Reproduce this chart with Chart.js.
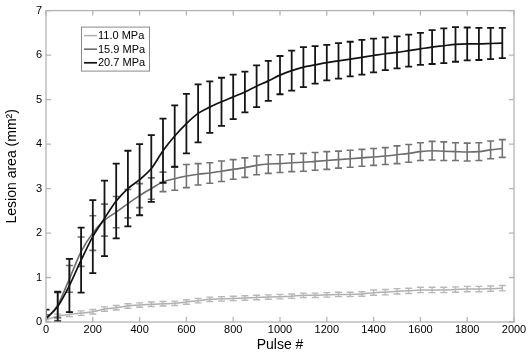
<!DOCTYPE html>
<html><head><meta charset="utf-8">
<script src="https://cdn.jsdelivr.net/npm/chart.js@4.4.0/dist/chart.umd.min.js"></script>
<style>html,body{margin:0;padding:0;background:#fff}#wrap{width:530px;height:354px;position:relative}</style>
</head><body><div id="wrap"><canvas id="c" width="530" height="354"></canvas></div>
<script>
const pulses = [0,50,100,150,200,250,300,350,400,450,500,550,600,650,700,750,800,850,900,950,
  1000,1050,1100,1150,1200,1250,1300,1350,1400,1450,1500,1550,1600,1650,1700,1750,1800,1850,1900,1950];

const mean11 = [0.05,0.13,0.17,0.20,0.23,0.29,0.32,0.36,0.38,0.40,0.41,0.42,0.45,0.48,0.51,0.52,0.53,0.54,0.55,0.56,
  0.57,0.58,0.60,0.60,0.61,0.62,0.62,0.63,0.66,0.67,0.69,0.70,0.72,0.72,0.72,0.73,0.74,0.74,0.75,0.76];
const err11 = [0.04,0.05,0.05,0.05,0.05,0.05,0.05,0.05,0.05,0.05,0.05,0.05,0.05,0.05,0.05,0.05,0.05,0.05,0.05,0.05,
  0.05,0.05,0.05,0.05,0.05,0.05,0.05,0.05,0.06,0.06,0.06,0.06,0.06,0.06,0.06,0.06,0.06,0.06,0.06,0.06];

const mean159 = [0.06,0.38,0.97,1.58,2.00,2.29,2.47,2.66,2.84,3.00,3.15,3.22,3.28,3.32,3.35,3.39,3.43,3.47,3.52,3.55,
  3.56,3.58,3.59,3.61,3.63,3.65,3.67,3.69,3.71,3.73,3.76,3.79,3.83,3.85,3.84,3.83,3.82,3.83,3.87,3.90];
const err159 = [0.10,0.28,0.30,0.33,0.39,0.36,0.35,0.32,0.27,0.24,0.22,0.26,0.26,0.24,0.23,0.23,0.22,0.22,0.21,0.21,
  0.20,0.20,0.20,0.20,0.20,0.19,0.19,0.19,0.19,0.19,0.20,0.20,0.20,0.21,0.21,0.20,0.20,0.20,0.20,0.20];

const mean207 = [0.08,0.35,0.82,1.39,1.92,2.33,2.72,3.00,3.20,3.45,3.85,4.18,4.46,4.69,4.83,4.95,5.06,5.17,5.30,5.42,
  5.55,5.65,5.73,5.78,5.83,5.87,5.91,5.95,5.99,6.03,6.06,6.10,6.14,6.18,6.21,6.24,6.25,6.25,6.26,6.27];
const err207 = [0.20,0.33,0.60,0.73,0.82,0.85,0.84,0.85,0.80,0.75,0.72,0.69,0.67,0.65,0.58,0.54,0.50,0.46,0.47,0.45,
  0.43,0.45,0.45,0.42,0.40,0.40,0.39,0.39,0.38,0.37,0.36,0.36,0.36,0.38,0.39,0.39,0.37,0.36,0.35,0.34];

const seriesLabels = ['11.0 MPa','15.9 MPa','20.7 MPa'];
const xTitle = 'Pulse #';
const yTitle = 'Lesion area (mm\u00B2)';

const FONT = '"Liberation Sans", Arial, sans-serif';

function toPts(means){ return pulses.map((p,i)=>({x:p,y:means[i]})); }

const errorBars = {
  id:'errorBars',
  afterDatasetDraw(chart, args){
    const ds = chart.data.datasets[args.index];
    if(!ds.errors) return;
    const xs = chart.scales.x, ys = chart.scales.y, ctx = chart.ctx, a = chart.chartArea;
    ctx.save();
    ctx.beginPath(); ctx.rect(a.left, a.top, a.right-a.left, a.bottom-a.top); ctx.clip();
    ctx.strokeStyle = ds.errColor; ctx.lineWidth = ds.errWidth;
    const cw = 3.5;
    ds.data.forEach((pt,i)=>{
      const e = ds.errors[i];
      const px = xs.getPixelForValue(pt.x);
      const y1 = ys.getPixelForValue(pt.y+e), y2 = ys.getPixelForValue(pt.y-e);
      ctx.beginPath();
      ctx.moveTo(px,y1); ctx.lineTo(px,y2);
      ctx.moveTo(px-cw,y1); ctx.lineTo(px+cw,y1);
      ctx.moveTo(px-cw,y2); ctx.lineTo(px+cw,y2);
      ctx.stroke();
    });
    ctx.restore();
  }
};

const frame = {
  id:'frame',
  afterDraw(chart){
    const ctx = chart.ctx, a = chart.chartArea, xs = chart.scales.x, ys = chart.scales.y;
    ctx.save();
    ctx.strokeStyle = '#b4b4b4'; ctx.lineWidth = 1.3;
    ctx.strokeRect(a.left, a.top, a.right-a.left, a.bottom-a.top);
    const tl = 5;
    ctx.beginPath();
    xs.ticks.forEach(t=>{
      const px = xs.getPixelForValue(t.value);
      ctx.moveTo(px,a.bottom); ctx.lineTo(px,a.bottom-tl);
      ctx.moveTo(px,a.top); ctx.lineTo(px,a.top+tl);
    });
    ys.ticks.forEach(t=>{
      const py = ys.getPixelForValue(t.value);
      ctx.moveTo(a.left,py); ctx.lineTo(a.left+tl,py);
      ctx.moveTo(a.right,py); ctx.lineTo(a.right-tl,py);
    });
    ctx.stroke();
    // legend
    const bx = a.left+35, by = a.top+16, bw = 68, bh = 44;
    ctx.fillStyle = '#fff'; ctx.fillRect(bx,by,bw,bh);
    ctx.strokeStyle = '#8a8a8a'; ctx.lineWidth = 1;
    ctx.strokeRect(bx+0.5,by+0.5,bw,bh);
    ctx.font = '11px ' + FONT; ctx.textBaseline = 'middle'; ctx.textAlign = 'left';
    seriesLabels.forEach((lab,i)=>{
      const ds = chart.data.datasets.find(d=>d.label===lab);
      const yy = by + 9 + i*13.6;
      ctx.strokeStyle = ds.borderColor; ctx.lineWidth = ds.borderWidth;
      ctx.beginPath(); ctx.moveTo(bx+3,yy); ctx.lineTo(bx+16,yy); ctx.stroke();
      ctx.fillStyle = '#000'; ctx.fillText(lab, bx+17, yy+0.5);
    });
    ctx.restore();
  }
};

new Chart(document.getElementById('c'), {
  type:'line',
  data:{ datasets:[
    {label:seriesLabels[2], data:toPts(mean207), errors:err207, borderColor:'#111', errColor:'#151515', errWidth:1.8, borderWidth:1.7, order:0},
    {label:seriesLabels[1], data:toPts(mean159), errors:err159, borderColor:'#6c6c6c', errColor:'#727272', errWidth:1.6, borderWidth:1.6, order:1},
    {label:seriesLabels[0], data:toPts(mean11), errors:err11, borderColor:'#b0b0b0', errColor:'#b8b8b8', errWidth:1.4, borderWidth:1.5, order:2}
  ]},
  options:{
    responsive:false, animation:false,
    devicePixelRatio:1,
    layout:{padding:{left:4, top:8, right:16, bottom:0}},
    elements:{point:{radius:0}, line:{cubicInterpolationMode:'monotone', fill:false}},
    plugins:{legend:{display:false}, tooltip:{enabled:false}},
    scales:{
      x:{type:'linear', min:0, max:2000,
        ticks:{stepSize:200, maxRotation:0, autoSkip:false, color:'#000', font:{family:FONT,size:11}, padding:1,
          callback:(v)=>String(v)},
        grid:{display:false, drawTicks:false}, border:{display:false},
        title:{display:true, text:xTitle, color:'#000', font:{family:FONT,size:14}, padding:{top:0,bottom:0}},
        afterFit(s){ s.height = 32; }
      },
      y:{type:'linear', min:0, max:7,
        ticks:{stepSize:1, color:'#000', font:{family:FONT,size:11}, padding:4, callback:(v)=>String(v)},
        grid:{display:false, drawTicks:false}, border:{display:false},
        title:{display:true, text:yTitle, color:'#000', font:{family:FONT,size:14}, padding:{top:0,bottom:0}},
        afterFit(s){ s.width = 42; }
      }
    }
  },
  plugins:[errorBars, frame]
});
</script></body></html>
